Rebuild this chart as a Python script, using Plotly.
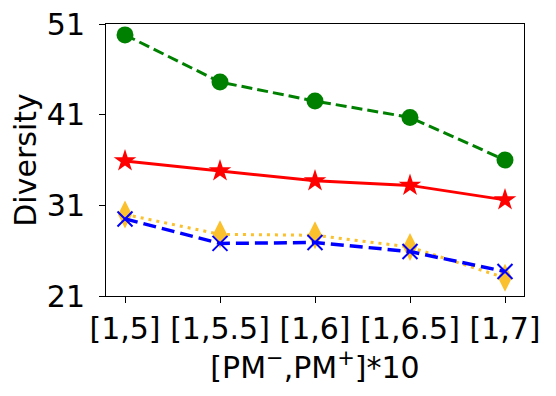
import plotly.graph_objects as go

categories = ["[1,5]", "[1,5.5]", "[1,6]", "[1,6.5]", "[1,7]"]
green_vals = [49.8, 44.6, 42.5, 40.7, 36.0]
red_vals = [35.9, 34.8, 33.7, 33.2, 31.6]
orange_vals = [30.0, 27.8, 27.7, 26.4, 23.0]
blue_vals = [29.5, 26.8, 26.9, 25.9, 23.7]
y_ticks = [21, 31, 41, 51]

FONT = "DejaVu Sans"
FS = 30
xs = list(range(len(categories)))

fig = go.Figure()

fig.add_trace(go.Scatter(
    x=xs, y=green_vals, mode="lines+markers",
    line=dict(color="#008000", width=3, dash="11px,5px"),
    marker=dict(symbol="circle", size=17, color="#008000"),
))
fig.add_trace(go.Scatter(
    x=xs, y=red_vals, mode="lines+markers",
    line=dict(color="#FF0000", width=3),
    marker=dict(symbol="star", size=17, color="#FF0000"),
))
fig.add_trace(go.Scatter(
    x=xs, y=orange_vals, mode="lines+markers",
    line=dict(color="#FBC02D", width=3, dash="3px,5px"),
    marker=dict(symbol="diamond-tall", size=20, color="#FBC02D"),
))
fig.add_trace(go.Scatter(
    x=xs, y=blue_vals, mode="lines+markers",
    line=dict(color="#0000FF", width=3.5, dash="13px,6px"),
    marker=dict(symbol="x-thin-open", size=15, color="#0000FF",
                line=dict(color="#0000FF", width=2)),
))

# page body adds an 8px margin, so the figure is shifted by that much
fig.update_layout(
    width=548, height=388,
    margin=dict(l=98, r=32, t=16, b=100),
    paper_bgcolor="white", plot_bgcolor="white",
    showlegend=False,
    font=dict(family=FONT, size=FS, color="black"),
    xaxis=dict(
        range=[-0.2, 4.2], automargin=False,
        tickmode="array", tickvals=xs, ticktext=categories,
        ticks="outside", ticklen=6, tickwidth=1, tickcolor="black",
        showline=True, linecolor="black", linewidth=1, mirror=True,
        showgrid=False, zeroline=False,
        ticklabeloverflow="allow",
        tickfont=dict(family=FONT, size=FS),
        title=dict(text="[PM<sup>−</sup>,PM<sup>+</sup>]*10", standoff=4,
                   font=dict(family=FONT, size=FS)),
    ),
    yaxis=dict(
        range=[21, 51], automargin=False,
        tickmode="array", tickvals=y_ticks,
        ticks="outside", ticklen=6, tickwidth=1, tickcolor="black",
        showline=True, linecolor="black", linewidth=1, mirror=True,
        showgrid=False, zeroline=False,
        ticklabelstandoff=8, ticklabeloverflow="allow",
        tickfont=dict(family=FONT, size=FS),
        title=dict(text="Diversity", standoff=6,
                   font=dict(family=FONT, size=FS)),
    ),
)

fig.write_html("out.html")
